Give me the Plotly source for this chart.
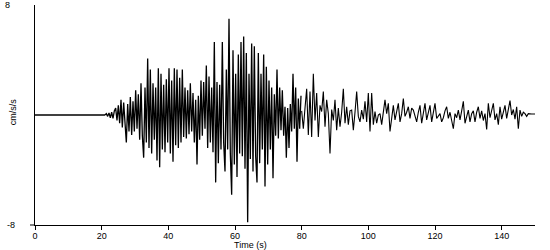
import plotly.graph_objects as go

# Sampling of the accelerogram (seconds)
quiet_t0, quiet_dt = 0.0, 21.0
quiet_vals = [0.0, 0.0]

strong_t0, strong_dt = 21.0, 0.4
strong_vals = [
    0.0, 0.1, -0.1, 0.15, -0.2, 0.2, -0.25, 0.3,
    0.5, -0.4, 0.7, -0.6, 1.1, -0.9, 0.9, -0.8,
    -2.0, 0.8, -1.2, 1.3, -1.45, 1.0, -1.2, 1.8,
    -1.0, 1.5, -1.8, 2.3, -1.5, -3.1, 2.0, -2.0,
    4.1, -2.4, 3.3, -2.8, 2.3, -1.8, 2.0, -3.3,
    3.4, -3.8, 3.0, -2.5, 2.2, -2.7, 2.6, -2.0,
    3.4, -2.8, 2.5, -3.4, 3.4, -2.2, 3.3, -2.4,
    2.7, -2.0, 3.3, -1.6, 2.0, -1.7, 1.8, -1.4,
    2.3, -1.2, 1.6, -2.0, 1.1, -3.6, 1.4, -1.8,
    2.5, -1.5, 2.4, -1.0, 3.6, -2.4, 2.8, -2.0,
    2.0, -2.7, 5.3, -4.9, 2.4, -3.5, 2.2, -2.5,
    5.3, -2.0, -4.1, 3.3, -2.5, 7.0, -2.8, -5.8,
    4.7, -3.6, 3.0, -4.5, 4.4, -2.8, 5.3, -3.0,
    5.7, -3.9, 4.5, -7.8, 3.0, -3.2, 5.2, -4.1,
    5.0, -3.0, -4.9, 4.5, -3.5, 3.0, -2.5, 4.4,
    -5.2, 3.5, -3.6, 2.5, -2.5, 2.0, -4.6, 1.5,
    -1.5, 3.3, -1.7, 2.0, -1.1, 1.8, -1.5, 0.6,
    -3.1, 0.5, -2.4, 0.8, -1.2, 3.0, -1.0, 2.0,
    -3.4, 1.2, -1.0, 1.4,
]

coda_t0, coda_dt = 80.0, 0.5
coda_vals = [
    0.3, -1.0, 0.5, 1.9, -1.45, 1.7, -1.6, 3.0, -0.4, 1.6,
    -1.6, 0.7, 0.25, 1.7, -0.85, 1.1, 0.1, -2.8, 0.4, -0.4,
    1.1, -1.1, 0.5, -0.85, 0.2, 1.9, -0.6, 0.6, -0.7, 0.3,
    0.36, -1.1, 0.2, 1.7, -0.1, -0.5, 0.36, -0.3, 1.0, -0.5,
    1.6, -1.2, 1.6, -0.7, 0.25, -0.6, 0.0, 0.1, -0.7, 0.3,
    1.1, 0.1, 0.85, -1.2, -0.2, 0.7, -0.36, 0.2, 0.85, -0.5,
    0.1, 1.2, -0.1, 0.2, 0.6, -0.25, 0.5, 0.36, -0.1, -0.5,
    0.2, 0.7, -0.6, 0.1, 0.85, -0.36, 0.2, 0.7, -0.5, 0.3,
    0.85, -0.25, -0.1, 0.1, -0.5, -0.2, 0.3, 0.6, -0.25, 0.2,
    -0.4, -1.0, 0.1, -0.2, 0.36, -0.36, 0.3, 1.0, -0.6, -0.1,
    0.36, -0.5, 0.1, 0.3, -0.5, 0.2, 0.6, -0.25, 0.3, -0.4,
    0.1, -1.05, 0.85, -0.2, 0.3, 0.85, -0.36, 0.1, -0.7, 0.6,
    -0.3, 0.2, 0.7, -0.25, 0.3, 1.05, 0.0, 0.4, -0.3, 0.6,
    -1.0, 0.36, -0.1, 0.2, 0.1, -0.1, 0.1, 0.07, 0.07, 0.07,
    0.07,
]

x_ticks = [0, 20, 40, 60, 80, 100, 120, 140]
y_ticks = [-8, 8]
y_tick_text = ["-8", "8"]
x_title = "Time (s)"
y_title = "cm/s/s"

FONT = dict(family="Liberation Sans, Arial, sans-serif", size=9, color="black")

fig = go.Figure()
for t0, dt, vals, w in [(quiet_t0, quiet_dt, quiet_vals, 1.3),
                        (strong_t0, strong_dt, strong_vals, 1.3),
                        (coda_t0, coda_dt, coda_vals, 1.1)]:
    fig.add_trace(go.Scatter(x0=t0, dx=dt, y=vals, mode="lines",
                             line=dict(color="black", width=w),
                             showlegend=False, hoverinfo="skip"))

fig.update_layout(
    width=550, height=250,
    margin=dict(l=35, r=15, t=5, b=25),
    paper_bgcolor="white", plot_bgcolor="white",
    font=FONT,
    showlegend=False,
)
fig.update_xaxes(
    range=[0, 150], tickvals=x_ticks, ticks="outside", ticklen=4,
    tickcolor="black", showline=True, linecolor="black", linewidth=1,
    showgrid=False, zeroline=False, tickfont=FONT, automargin=False,
    ticklabelstandoff=-2,
)
fig.update_yaxes(
    range=[-8, 8], tickvals=y_ticks, showticklabels=False, ticks="",
    showline=True, linecolor="black", linewidth=1,
    showgrid=False, zeroline=False, automargin=False,
)
# y tick labels placed at the left edge, like the reference
for v, txt, xp in zip(y_ticks, y_tick_text, [-0.049, -0.056]):
    fig.add_annotation(text=txt, xref="paper", yref="y", x=xp, y=v,
                       xanchor="center", yanchor="middle", showarrow=False, font=FONT)
# short tick at the lower left corner
fig.add_shape(type="line", xref="paper", yref="paper", x0=-0.01, x1=0, y0=0, y1=0,
              line=dict(color="black", width=1))
fig.add_annotation(text=x_title, xref="paper", yref="paper", x=0.43, y=-0.09,
                   xanchor="center", yanchor="middle", showarrow=False, font=FONT)
fig.add_annotation(text=y_title, xref="paper", yref="paper", x=-0.045, y=0.51,
                   xanchor="center", yanchor="middle", textangle=-90,
                   showarrow=False, font=FONT)

fig.write_html("out.html")
